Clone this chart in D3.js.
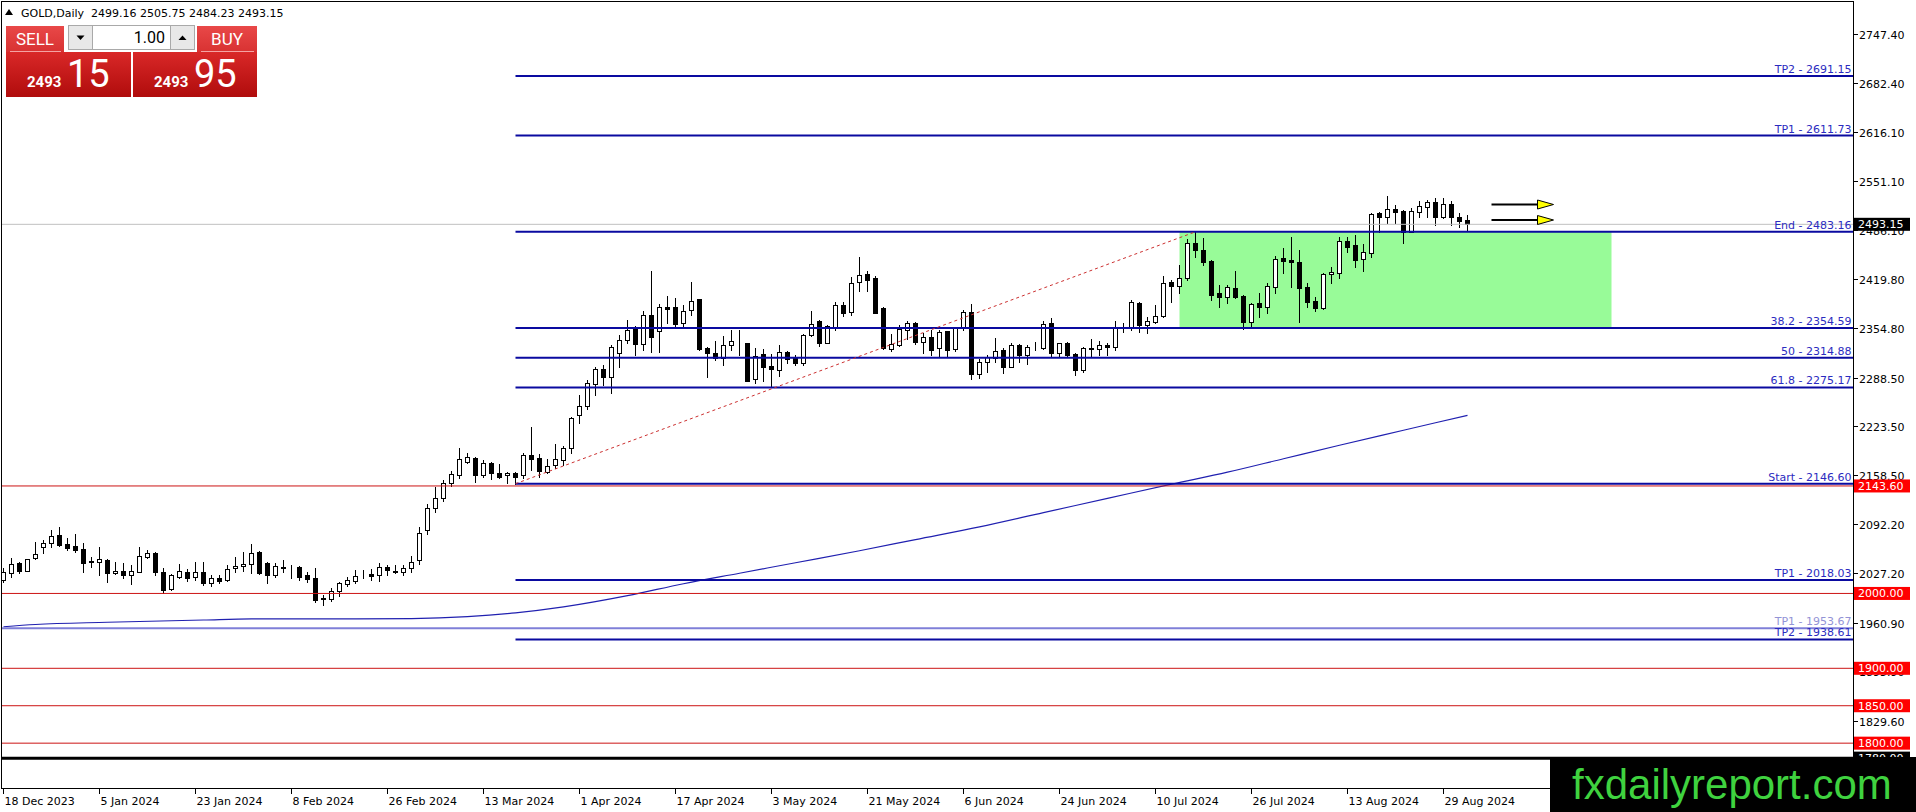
<!DOCTYPE html>
<html>
<head>
<meta charset="utf-8">
<title>GOLD, Daily</title>
<script src="https://cdn.jsdelivr.net/npm/d3@7"></script>
<style>
  html, body { margin: 0; padding: 0; background: #ffffff; overflow: hidden; }
  #chart svg { display: block; }
  .mt4 { font-family: "DejaVu Sans", Verdana, sans-serif; font-size: 11px; }
  .panel { font-family: Roboto, "Noto Sans", sans-serif; }
</style>
</head>
<body>
<div id="chart"></div>
<script>
// daily bars, index 0 = 18 Dec 2023 ... index 183 = 3 Sep 2024
const opens = [
  2018, 2027, 2041, 2030.5, 2047, 2062.5, 2067, 2078, 2066, 2064,
  2059, 2043.4, 2042, 2044.7, 2027, 2030, 2024.7, 2029, 2048.3, 2054.5,
  2029, 2005.5, 2022.4, 2029, 2021.5, 2029, 2014.4, 2021, 2018, 2033.6,
  2036.7, 2039.4, 2055.8, 2041, 2024.7, 2035.8, 2035.8, 2035.8, 2024.7, 2020.2,
  1993.5, 1992, 2003, 2012.7, 2017, 2024, 2026, 2024.7, 2035.8, 2030.5,
  2029.1, 2033.6, 2044.7, 2084.8, 2113.8, 2127.1, 2148, 2158.3, 2176, 2180.5,
  2158.3, 2174.8, 2160.5, 2158.3, 2161.4, 2158.3, 2185, 2180.5, 2162.7, 2171.6,
  2178.3, 2193.9, 2238.4, 2250.9, 2279.8, 2299.4, 2289.6, 2321.6, 2338.6, 2355.5,
  2332.8, 2372, 2351, 2382.2, 2382.2, 2360.8, 2378.6, 2392.9, 2327.4, 2321.6,
  2314.1, 2331.9, 2336.3, 2334, 2286, 2319.4, 2303.8, 2298.5, 2323, 2314.1,
  2308.3, 2345.2, 2364, 2335, 2355.5, 2385.3, 2376.4, 2416.5, 2426.7, 2421,
  2380.9, 2326.6, 2331.9, 2352, 2361.8, 2336.4, 2342.2, 2327.5, 2350.7, 2326.2,
  2354.2, 2375.6, 2293.2, 2309.7, 2315, 2325.3, 2303, 2331.5, 2318.6, 2328.4,
  2327.5, 2360.9, 2320.8, 2335, 2319.5, 2298.5, 2327.5, 2326.2, 2331.5, 2328.8,
  2355, 2356.4, 2388.5, 2358.7, 2363.1, 2370.7, 2416.1, 2410.8, 2421, 2468.6,
  2458.8, 2444.5, 2400.9, 2395.6, 2407.6, 2397.3, 2363, 2387.5, 2383.1, 2409.8,
  2447.7, 2445.4, 2443.2, 2409.8, 2390.7, 2381.7, 2426.3, 2428.5, 2470.8, 2465.5,
  2446.3, 2455.2, 2507.8, 2502.4, 2513.1, 2510.9, 2483.3, 2510, 2516.7, 2523.4,
  2503.3, 2520.2, 2502.4, 2499.16
];
const highs = [
  2033.6, 2047, 2042.5, 2046, 2069, 2071.4, 2084.8, 2089, 2073.6, 2079.4,
  2067, 2049, 2062.5, 2045.6, 2042.5, 2041, 2038, 2061.6, 2058, 2055,
  2033.6, 2025.5, 2040, 2032, 2042.5, 2042.5, 2024.7, 2024.7, 2038, 2049,
  2055.8, 2065.6, 2057, 2042.5, 2040.3, 2044.7, 2038, 2036.7, 2029.1, 2033.6,
  1998, 2006.9, 2015.8, 2022.4, 2031.4, 2031.4, 2032, 2040.3, 2038, 2038,
  2038, 2050, 2089.3, 2119, 2142.7, 2151.6, 2164, 2193.9, 2188, 2182.8,
  2178.3, 2176, 2173, 2162.7, 2162.7, 2188, 2222.9, 2186.3, 2179.2, 2199.7,
  2197, 2236.2, 2265.2, 2285.2, 2302.1, 2305.2, 2332, 2345.2, 2365.3, 2357.3,
  2377.3, 2431.2, 2386.7, 2397.3, 2394.2, 2385.3, 2416.5, 2393, 2329.7, 2337.2,
  2343.9, 2351.9, 2352, 2334.5, 2327.4, 2326.1, 2319.4, 2331.9, 2324.3, 2318.5,
  2346.1, 2377.3, 2365.3, 2358.6, 2389.8, 2389.8, 2423.2, 2449.9, 2431.2, 2424.1,
  2382.2, 2346.1, 2358.6, 2364, 2363, 2347.5, 2352, 2352, 2351.1, 2356.4,
  2378.7, 2386.3, 2312.8, 2318.6, 2340.9, 2327.5, 2334.2, 2333.3, 2332, 2336.4,
  2364.5, 2367.6, 2335.1, 2336.4, 2320.8, 2328.8, 2339.5, 2337.7, 2335, 2364.5,
  2360.9, 2392.1, 2389.8, 2369.8, 2385.4, 2424.1, 2418.8, 2438.8, 2474, 2483.16,
  2474.4, 2445, 2412, 2412, 2431.2, 2398.7, 2387.5, 2401.8, 2414.3, 2450.8,
  2461, 2476.6, 2458.8, 2414.3, 2396.5, 2427.6, 2435.6, 2476.6, 2475.7, 2478.8,
  2466.8, 2508.7, 2510, 2531, 2518.9, 2512.2, 2514.5, 2524.7, 2525.6, 2527.8,
  2527.8, 2524.7, 2507.8, 2505.75
];
const lows = [
  2015.8, 2022.5, 2027, 2030, 2045.6, 2053.6, 2062.5, 2063.4, 2058, 2055.8,
  2029, 2035.8, 2024.7, 2015.8, 2026, 2020, 2012.6, 2028.2, 2047, 2024.7,
  2001, 2004.6, 2020, 2016.6, 2018, 2011.3, 2010, 2014.4, 2017, 2029,
  2030.5, 2027, 2026, 2014.4, 2022.4, 2029, 2020.2, 2018, 2015.8, 1989,
  1984.6, 1990, 1996, 2010, 2014.4, 2020, 2018, 2017, 2024.7, 2027,
  2024.7, 2029, 2039.4, 2079.5, 2109.3, 2124, 2143.6, 2153.8, 2173.9, 2149.4,
  2156, 2152.5, 2153.8, 2148, 2146.6, 2153.8, 2165, 2156, 2160.5, 2167.2,
  2171.6, 2187.2, 2227.3, 2246, 2265.2, 2278.5, 2267.4, 2302, 2335, 2318.5,
  2325.2, 2323, 2323, 2361.7, 2356.4, 2357.3, 2372, 2325.2, 2289.6, 2311.9,
  2305.2, 2325.2, 2318.5, 2283.8, 2280.7, 2284.3, 2276.3, 2290.5, 2308.3, 2305.2,
  2305.2, 2343.9, 2330.6, 2334, 2352, 2370.6, 2372, 2404.5, 2404.5, 2374.2,
  2326.1, 2324.3, 2330.6, 2340, 2333.3, 2321.7, 2318.6, 2315.5, 2315.5, 2324.4,
  2352, 2286.1, 2287.4, 2296.3, 2309.7, 2295, 2302, 2309.7, 2306.6, 2325.3,
  2326.2, 2315.5, 2315.5, 2315.5, 2291.9, 2296.3, 2317.2, 2318.6, 2318.2, 2325.3,
  2349.8, 2352, 2349.8, 2348.4, 2360.9, 2368.9, 2389.8, 2401, 2418.7, 2449.9,
  2438.7, 2392, 2383.1, 2387.5, 2394.2, 2352.8, 2356.4, 2368.9, 2375.1, 2401.8,
  2428.5, 2409.8, 2363, 2383.1, 2377.8, 2379.5, 2415.2, 2421.8, 2456.6, 2436.5,
  2431.2, 2449, 2483.3, 2495.3, 2495.3, 2468.6, 2483, 2502.4, 2502.4, 2492.2,
  2501.1, 2492.2, 2489, 2484.23
];
const closes = [
  2029, 2040, 2030, 2045.6, 2052.7, 2067, 2076.8, 2064.7, 2061, 2058,
  2041, 2042, 2045.6, 2026.9, 2030, 2024.7, 2030, 2050, 2053.6, 2028.2,
  2004.6, 2024.7, 2030, 2021, 2029, 2013.5, 2021, 2016.6, 2032, 2036.7,
  2040, 2054.5, 2026.9, 2024.7, 2036.7, 2034.5, 2035, 2022.4, 2018.9, 1991.3,
  1993, 2003, 2013.5, 2018, 2023.3, 2025, 2023.4, 2034.9, 2031.4, 2029.1,
  2033.6, 2042.5, 2081.3, 2113.8, 2127.1, 2147.1, 2159.2, 2179.2, 2182.8, 2158.3,
  2173.9, 2160.5, 2155.2, 2161.4, 2156, 2185, 2179.7, 2164, 2170.3, 2179.2,
  2193.9, 2234, 2250.9, 2280.7, 2299.4, 2289.6, 2328.8, 2338.6, 2351.9, 2332.8,
  2371.5, 2343, 2382.2, 2380.4, 2360, 2377.8, 2391.1, 2326.1, 2320.8, 2314.1,
  2331.9, 2337.2, 2335.4, 2284.3, 2317.2, 2303, 2300.3, 2323, 2312.7, 2307.4,
  2345.2, 2360, 2335, 2357.3, 2385.3, 2375.1, 2414.3, 2425.4, 2418.7, 2375.1,
  2327.4, 2332.8, 2352.8, 2361, 2336.4, 2342.2, 2325.3, 2349.8, 2325.3, 2354.2,
  2375.6, 2293.2, 2309.7, 2315.5, 2324.4, 2303, 2332, 2318.6, 2328.8, 2327.5,
  2359.6, 2320.8, 2334.2, 2318.6, 2298.5, 2327.5, 2326.2, 2332, 2328.8, 2354.2,
  2354.6, 2389.8, 2358.7, 2364, 2370.7, 2414.3, 2410.8, 2421, 2468.6, 2458.8,
  2443.2, 2398.7, 2395.6, 2408.9, 2396.5, 2363, 2386.2, 2383.1, 2410.7, 2446.3,
  2444.5, 2442.8, 2408.5, 2388.9, 2381.7, 2426.3, 2429.9, 2471.3, 2463.2, 2445.4,
  2456.6, 2506.9, 2503.3, 2513.1, 2510, 2483.3, 2511.3, 2517.6, 2523.4, 2503.3,
  2520.2, 2503.3, 2498, 2493.15
];

// moving average, read at a few bars along its path
const maBars = [0, 4, 13, 25, 31, 41, 51, 58, 64, 70, 78, 85, 92, 99, 107, 114, 122, 130, 138, 146, 153, 160, 167, 175, 183];
const maValues = [1955.5, 1958.5, 1961.5, 1964.5, 1966, 1966, 1966.5, 1969, 1974, 1982, 1997, 2013, 2027, 2041, 2057, 2072, 2089, 2108, 2127, 2146, 2162, 2180, 2198, 2218, 2238];

// time axis labels (every 12 bars)
const dateTickBars = [0, 12, 24, 36, 48, 60, 72, 84, 96, 108, 120, 132, 144, 156, 168, 180];
const dateTickLabels = ['18 Dec 2023', '5 Jan 2024', '23 Jan 2024', '8 Feb 2024', '26 Feb 2024', '13 Mar 2024',
  '1 Apr 2024', '17 Apr 2024', '3 May 2024', '21 May 2024', '6 Jun 2024', '24 Jun 2024',
  '10 Jul 2024', '26 Jul 2024', '13 Aug 2024', '29 Aug 2024'];

// price axis labels
const priceTicks = [2747.40, 2682.40, 2616.10, 2551.10, 2486.10, 2419.80, 2354.80, 2288.50, 2223.50,
  2158.50, 2092.20, 2027.20, 1960.90, 1895.90, 1829.60];

// fibo levels (drawn from the 19 Mar low to the 17 Jul high)
const fibNames = ['TP2', 'TP1', 'End', '38.2', '50', '61.8', 'Start', 'TP1', 'TP2'];
const fibValues = [2691.15, 2611.73, 2483.16, 2354.59, 2314.88, 2275.17, 2146.60, 2018.03, 1938.61];
const fibFromBar = 64, fibToBar = 149;
const extraFibName = 'TP1', extraFibValue = 1953.67;

// round number levels
const redLevels = [2143.60, 2000.00, 1900.00, 1850.00, 1800.00];
const blackLevel = 1780.00;

// current prices
const bidPrice = 2493.15, askPrice = 2493.95, lotSize = 1.00;

// rectangle zone and arrows
const boxFromBar = 147, boxToBar = 201, boxTop = 2483.16, boxBottom = 2354.59;
const arrowPrices = [2519.6, 2498.9];
const arrowFromBar = 186, arrowHeadBar = 191.75, arrowTipBar = 193.75;

// ---------------------------------------------------------------
const W = 1916, H = 812;
const plot = { left: 1.5, top: 1.5, right: 1853.5, bottom: 788.5 };
const fmt = d3.format('.2f');

const x = d3.scaleLinear().domain([0, (plot.right - 3.5) / 8]).range([3.5, plot.right]);
const y = d3.scaleLinear().domain([1829.6, 2747.4]).range([721, 34]);

const svg = d3.select('#chart').append('svg')
  .attr('width', W).attr('height', H)
  .attr('class', 'mt4');

svg.append('rect').attr('width', W).attr('height', H).attr('fill', '#ffffff');

const defs = svg.append('defs');
defs.append('clipPath').attr('id', 'plotClip').append('rect')
  .attr('x', plot.left).attr('y', plot.top)
  .attr('width', plot.right - plot.left).attr('height', plot.bottom - plot.top);

const grad = (id, c1, c2) => {
  const lg = defs.append('linearGradient').attr('id', id)
    .attr('x1', 0).attr('y1', 0).attr('x2', 0).attr('y2', 1);
  lg.append('stop').attr('offset', '0%').attr('stop-color', c1);
  lg.append('stop').attr('offset', '100%').attr('stop-color', c2);
};
grad('btnGrad', '#e94848', '#d83232');
grad('boxGrad', '#d92828', '#b00c0c');

const g = svg.append('g').attr('clip-path', 'url(#plotClip)');

// green zone in background
g.append('rect')
  .attr('x', x(boxFromBar)).attr('y', y(boxTop))
  .attr('width', x(boxToBar) - x(boxFromBar))
  .attr('height', y(boxBottom) - y(boxTop))
  .attr('fill', '#98fb98');

// moving average
const maLine = d3.line().x(d => x(d[0])).y(d => y(d[1])).curve(d3.curveMonotoneX);
g.append('path')
  .datum(d3.zip(maBars, maValues))
  .attr('d', maLine)
  .attr('fill', 'none')
  .attr('stroke', '#2020b0')
  .attr('stroke-width', 1.2);

// candles
const bars = opens.map((o, i) => ({ i, o, h: highs[i], l: lows[i], c: closes[i] }));
const cg = g.append('g').attr('shape-rendering', 'crispEdges');
cg.selectAll('line.wick').data(bars).join('line')
  .attr('class', 'wick')
  .attr('x1', d => x(d.i)).attr('x2', d => x(d.i))
  .attr('y1', d => Math.round(y(d.h))).attr('y2', d => Math.round(y(d.l)) + 1)
  .attr('stroke', '#000');
cg.selectAll('rect.body').data(bars).join('rect')
  .attr('class', 'body')
  .attr('x', d => x(d.i) - 2)
  .attr('y', d => Math.round(y(Math.max(d.o, d.c))) + 0.5)
  .attr('width', 4)
  .attr('height', d => Math.max(0, Math.round(y(Math.min(d.o, d.c))) - Math.round(y(Math.max(d.o, d.c)))))
  .attr('fill', d => d.c >= d.o ? '#ffffff' : '#000000')
  .attr('stroke', '#000');

// horizontal lines
const hline = (val, color, width, fromX) => g.append('line')
  .attr('x1', fromX).attr('x2', plot.right)
  .attr('y1', y(val)).attr('y2', y(val))
  .attr('stroke', color).attr('stroke-width', width);

hline(bidPrice, '#c0c0c0', 1, plot.left);
redLevels.forEach(v => hline(v, '#cc1414', 1, plot.left));
hline(blackLevel, '#000000', 3, plot.left);
hline(extraFibValue, '#7f7fd8', 2, plot.left);
fibValues.forEach(v => hline(v, '#0a0aa0', 2, x(fibFromBar)));

// dotted trend line of the fibo
g.append('line')
  .attr('x1', x(fibFromBar)).attr('y1', y(fibValues[6]))
  .attr('x2', x(fibToBar)).attr('y2', y(fibValues[2]))
  .attr('stroke', '#cc3030').attr('stroke-width', 1)
  .attr('stroke-dasharray', '3,3');

// fibo labels
fibNames.forEach((name, i) => {
  svg.append('text')
    .attr('x', plot.right - 2).attr('y', y(fibValues[i]) - 3)
    .attr('text-anchor', 'end')
    .attr('fill', '#2b2bc0')
    .text(`${name} - ${fmt(fibValues[i])}`);
});
svg.append('text')
  .attr('x', plot.right - 2).attr('y', y(extraFibValue) - 3)
  .attr('text-anchor', 'end')
  .attr('fill', '#9393d6')
  .text(`${extraFibName} - ${fmt(extraFibValue)}`);

// arrows
arrowPrices.forEach(p => {
  svg.append('line')
    .attr('x1', x(arrowFromBar)).attr('x2', x(arrowHeadBar))
    .attr('y1', y(p)).attr('y2', y(p))
    .attr('stroke', '#000').attr('stroke-width', 2);
  svg.append('path')
    .attr('d', `M${x(arrowHeadBar)},${y(p) - 4.5}L${x(arrowTipBar)},${y(p)}L${x(arrowHeadBar)},${y(p) + 4.5}Z`)
    .attr('fill', '#ffff00').attr('stroke', '#000').attr('stroke-width', 1);
});

// frame and price axis line
svg.append('path')
  .attr('d', `M${plot.left},${plot.bottom}V${plot.top}H${plot.right}V${plot.bottom}H${plot.left}`)
  .attr('fill', 'none').attr('stroke', '#000').attr('stroke-width', 1)
  .attr('shape-rendering', 'crispEdges');

// price axis
const pa = svg.append('g');
priceTicks.forEach(t => {
  const yy = Math.round(y(t)) + 0.5;
  pa.append('line').attr('x1', plot.right).attr('x2', plot.right + 4)
    .attr('y1', yy).attr('y2', yy).attr('stroke', '#000')
    .attr('shape-rendering', 'crispEdges');
  pa.append('text').attr('x', 1859).attr('y', yy + 4).attr('fill', '#000').text(fmt(t));
});

// time axis
const ta = svg.append('g');
dateTickBars.forEach((b, i) => {
  ta.append('line').attr('x1', x(b)).attr('x2', x(b))
    .attr('y1', plot.bottom).attr('y2', plot.bottom + 5)
    .attr('stroke', '#000').attr('shape-rendering', 'crispEdges');
  ta.append('text').attr('x', x(b) + 1).attr('y', 805).attr('fill', '#000').text(dateTickLabels[i]);
});

// price markers on the axis
const marker = (val, bg) => {
  const yy = y(val);
  svg.append('rect').attr('x', 1854).attr('y', yy - 6.5).attr('width', 56).attr('height', 13).attr('fill', bg);
  svg.append('text').attr('x', 1858).attr('y', yy + 4).attr('fill', '#ffffff').text(fmt(val));
};
redLevels.forEach(v => marker(v, '#ff0000'));
marker(blackLevel, '#000000');
marker(bidPrice, '#000000');

// header
svg.append('path').attr('d', 'M5,15L9,9L13,15Z').attr('fill', '#000');
svg.append('text')
  .attr('x', 21).attr('y', 17)
  .attr('fill', '#000')
  .style('white-space', 'pre')
  .text(`GOLD,Daily  ${fmt(opens[183])} ${fmt(highs[183])} ${fmt(lows[183])} ${fmt(closes[183])}`);

// one click trading panel
const panel = svg.append('g').attr('class', 'panel');
const bigBox = (bx, w, price) => {
  panel.append('rect').attr('x', bx).attr('y', 52).attr('width', w).attr('height', 45).attr('fill', 'url(#boxGrad)');
  const s = fmt(price).split('.');
  panel.append('text').attr('x', bx + 21).attr('y', 87)
    .attr('fill', '#fff').attr('font-size', 15).attr('font-weight', 'bold').text(s[0]);
  panel.append('text').attr('x', bx + 61).attr('y', 87)
    .attr('fill', '#fff').attr('font-size', 38).text(s[1]);
};
const button = (bx, w, label) => {
  panel.append('rect').attr('x', bx).attr('y', 26).attr('width', w).attr('height', 26).attr('fill', 'url(#btnGrad)');
  panel.append('line').attr('x1', bx + 4).attr('x2', bx + w - 3).attr('y1', 51.5).attr('y2', 51.5)
    .attr('stroke', '#f4a3a3');
  panel.append('text').attr('x', bx + w / 2).attr('y', 45).attr('text-anchor', 'middle')
    .attr('fill', '#fff').attr('font-size', 17).text(label);
};
button(6, 58, 'SELL');
button(197, 60, 'BUY');
bigBox(6, 125, bidPrice);
bigBox(133, 124, askPrice);

// lot field with spin buttons
panel.append('rect').attr('x', 68.5).attr('y', 25.5).attr('width', 24).attr('height', 24)
  .attr('fill', '#e8e8e8').attr('stroke', '#a9a9a9');
panel.append('path').attr('d', 'M76.5,35.5L84.5,35.5L80.5,40Z').attr('fill', '#000');
panel.append('rect').attr('x', 92.5).attr('y', 25.5).attr('width', 78).attr('height', 24)
  .attr('fill', '#ffffff').attr('stroke', '#a9a9a9');
panel.append('text').attr('x', 165).attr('y', 43).attr('text-anchor', 'end')
  .attr('fill', '#000').attr('font-size', 16).text(fmt(lotSize));
panel.append('rect').attr('x', 170.5).attr('y', 25.5).attr('width', 24).attr('height', 24)
  .attr('fill', '#e8e8e8').attr('stroke', '#a9a9a9');
panel.append('path').attr('d', 'M178.5,40L186.5,40L182.5,35.5Z').attr('fill', '#000');

// watermark
svg.append('rect').attr('x', 1550).attr('y', 757).attr('width', W - 1550).attr('height', H - 757).attr('fill', '#000');
svg.append('text')
  .attr('x', 1572).attr('y', 799)
  .attr('fill', '#3fd23f')
  .style('font-family', '"Liberation Sans", Arial, sans-serif')
  .style('font-size', '42px')
  .text('fxdailyreport.com');
</script>
</body>
</html>
